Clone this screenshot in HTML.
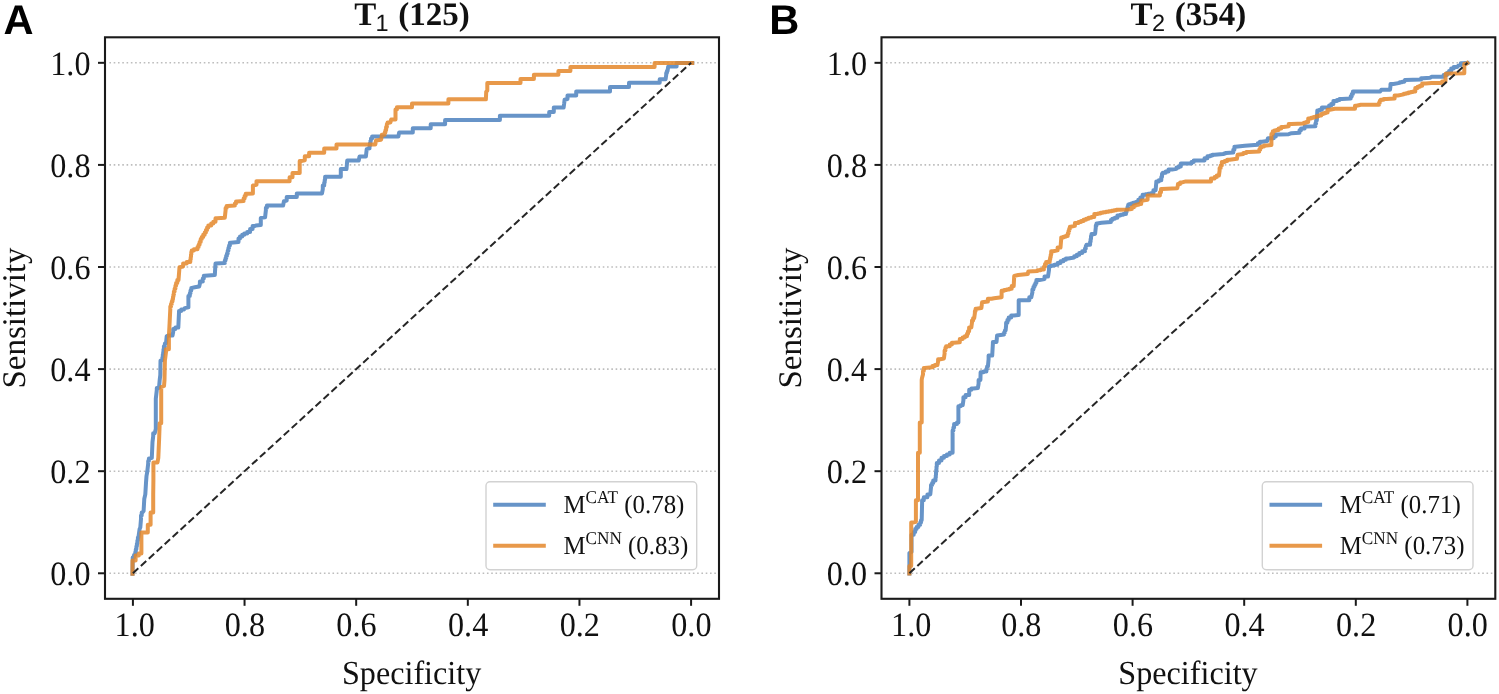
<!DOCTYPE html>
<html><head><meta charset="utf-8"><style>
html,body{margin:0;padding:0;background:#fff;}
body{width:1499px;height:694px;overflow:hidden;}
svg{display:block;will-change:transform;}
text{font-family:"Liberation Serif",serif;fill:#111;text-rendering:geometricPrecision;}
.tk{font-size:32.2px;}
.lab{font-size:33px;}
.ttl{font-size:33px;font-weight:bold;}
.sub{font-family:"Liberation Sans",sans-serif;font-weight:normal;font-size:23.5px;}
.leg{font-size:24.9px;}
.sup{font-size:17.2px;}
.pl{font-family:"Liberation Sans",sans-serif;font-weight:bold;font-size:41.6px;fill:#000;}
</style></head><body>
<svg width="1499" height="694" viewBox="0 0 1499 694">
<rect width="1499" height="694" fill="#fff"/>
<text x="3.4" y="33.7" class="pl">A</text>
<text x="769.2" y="33.7" class="pl">B</text>
<line x1="109.4" y1="573.28" x2="718.0" y2="573.28" stroke="#bdbdbd" stroke-width="1.6" stroke-dasharray="1.6 2.69"/>
<line x1="109.4" y1="471.19" x2="718.0" y2="471.19" stroke="#bdbdbd" stroke-width="1.6" stroke-dasharray="1.6 2.69"/>
<line x1="109.4" y1="369.10" x2="718.0" y2="369.10" stroke="#bdbdbd" stroke-width="1.6" stroke-dasharray="1.6 2.69"/>
<line x1="109.4" y1="267.00" x2="718.0" y2="267.00" stroke="#bdbdbd" stroke-width="1.6" stroke-dasharray="1.6 2.69"/>
<line x1="109.4" y1="164.91" x2="718.0" y2="164.91" stroke="#bdbdbd" stroke-width="1.6" stroke-dasharray="1.6 2.69"/>
<line x1="109.4" y1="62.82" x2="718.0" y2="62.82" stroke="#bdbdbd" stroke-width="1.6" stroke-dasharray="1.6 2.69"/>
<path d="M132.5 573.7 L132.7 560.0 L132.7 557.5 L134.0 557.5 L134.0 554.9 L135.3 554.9 L135.3 552.0 L135.8 552.0 L135.8 549.2 L136.4 549.2 L136.4 546.3 L136.9 546.3 L136.9 543.4 L137.4 543.4 L137.4 540.5 L137.9 540.5 L137.9 537.6 L138.4 537.6 L139.6 529.0 L140.3 527.5 L141.0 518.9 L141.0 515.6 L141.7 515.6 L141.7 512.4 L142.4 512.4 L143.6 511.0 L144.3 498.7 L145.3 494.4 L146.0 482.9 L146.5 476.0 L147.2 472.2 L148.2 463.6 L148.2 461.1 L148.9 461.1 L148.9 458.5 L149.6 458.5 L151.8 457.8 L152.5 442.0 L153.2 436.2 L153.2 433.3 L154.7 433.3 L155.8 429.0 L155.8 398.7 L156.8 390.1 L156.8 387.9 L159.0 387.9 L159.7 380.0 L160.3 375.0 L160.5 360.7 L162.4 360.0 L162.4 357.3 L162.8 357.3 L162.8 354.6 L163.2 354.6 L163.2 351.9 L163.5 351.9 L163.5 349.2 L163.9 349.2 L163.9 346.3 L164.9 346.3 L164.9 343.4 L166.0 343.4 L166.7 336.2 L168.9 335.5 L172.5 335.5 L173.2 331.9 L173.2 329.0 L175.4 329.0 L175.4 327.6 L178.3 327.6 L179.0 312.4 L179.0 311.0 L181.2 311.0 L181.2 309.5 L184.0 309.5 L184.8 308.1 L188.4 307.4 L188.4 298.7 L188.4 295.9 L189.8 295.9 L189.8 293.2 L190.5 293.2 L190.5 290.6 L191.3 290.6 L191.3 287.9 L192.0 287.9 L194.8 287.2 L199.2 286.5 L199.9 283.6 L199.9 281.4 L202.8 281.4 L202.8 278.6 L203.8 278.6 L203.8 275.8 L204.7 275.8 L214.8 275.1 L215.5 263.6 L224.8 262.9 L224.8 260.5 L225.5 260.5 L225.5 258.2 L226.2 258.2 L226.2 255.8 L227.0 255.8 L227.0 253.5 L227.7 253.5 L227.7 250.8 L228.4 250.8 L228.4 248.1 L229.1 248.1 L229.1 245.4 L229.9 245.4 L229.9 242.7 L230.6 242.7 L238.5 242.0 L238.5 238.4 L240.0 238.4 L240.0 236.6 L242.2 236.6 L242.2 234.8 L244.3 234.8 L244.3 233.4 L247.2 233.4 L247.2 231.9 L250.1 231.9 L250.1 229.0 L252.6 229.0 L252.6 226.1 L255.1 226.1 L255.8 225.5 L260.8 225.1 L260.8 217.9 L265.1 217.2 L265.9 210.0 L265.9 207.8 L266.9 207.8 L266.9 205.6 L268.0 205.6 L283.1 205.6 L283.9 201.3 L286.7 200.6 L286.7 197.0 L296.8 197.0 L296.8 193.4 L322.0 193.4 L322.8 189.1 L322.8 185.5 L324.2 185.5 L324.2 182.6 L324.7 182.6 L324.7 179.7 L325.1 179.7 L325.1 176.8 L325.6 176.8 L340.8 176.8 L340.8 169.1 L346.5 169.1 L347.2 160.6 L358.7 160.6 L359.5 156.6 L365.9 156.6 L366.7 149.1 L369.5 148.4 L369.5 145.7 L370.0 145.7 L370.0 143.1 L370.5 143.1 L370.5 140.4 L371.0 140.4 L371.0 138.4 L372.1 138.4 L372.1 136.4 L373.1 136.4 L398.4 136.4 L399.1 132.5 L412.8 132.5 L412.8 128.3 L430.7 128.3 L430.7 124.2 L445.1 124.2 L445.1 119.9 L499.9 119.9 L499.9 115.8 L549.2 115.8 L549.2 112.0 L553.8 112.0 L553.8 107.6 L563.6 107.6 L564.2 103.3 L564.6 99.7 L567.5 99.0 L567.5 95.4 L576.2 95.4 L576.2 91.5 L610.0 91.5 L610.0 87.1 L629.0 87.1 L629.0 82.8 L659.7 82.8 L659.7 79.2 L665.6 79.2 L666.2 75.0 L666.2 73.0 L666.9 73.0 L666.9 71.1 L667.5 71.1 L668.2 66.6 L676.6 66.6 L676.6 63.0 L692.2 63.0" fill="none" stroke="#6794c8" stroke-opacity="1" stroke-width="4" stroke-linejoin="round" stroke-linecap="square"/>
<path d="M132.5 573.7 L132.5 560.5 L135.6 560.5 L135.6 555.6 L138.8 555.6 L138.8 553.5 L141.4 553.5 L141.4 532.6 L147.8 532.6 L147.8 524.7 L150.6 524.7 L150.6 512.5 L153.2 512.5 L153.2 494.4 L153.4 480.0 L153.4 462.5 L157.5 462.5 L158.3 457.8 L159.0 442.0 L159.7 423.2 L161.2 423.2 L161.2 387.2 L164.0 386.0 L164.5 380.0 L164.9 360.7 L166.0 352.0 L166.0 349.2 L168.9 349.2 L168.9 336.2 L169.6 323.2 L170.3 308.8 L170.3 306.4 L171.0 306.4 L171.0 304.0 L171.8 304.0 L171.8 301.6 L172.5 301.6 L172.5 299.2 L173.0 299.2 L173.0 296.8 L173.4 296.8 L173.4 294.4 L173.9 294.4 L173.9 291.5 L174.6 291.5 L174.6 288.7 L175.4 288.7 L175.4 285.8 L176.1 285.8 L176.1 282.9 L177.3 282.9 L177.3 280.0 L178.5 280.0 L179.5 267.2 L183.1 266.5 L183.1 263.6 L186.7 263.6 L186.7 262.1 L190.3 262.1 L190.3 259.6 L190.7 259.6 L190.7 257.1 L191.0 257.1 L191.0 254.5 L191.3 254.5 L191.3 252.0 L191.7 252.0 L191.7 250.6 L193.9 250.6 L193.9 249.2 L197.5 249.2 L197.5 247.0 L198.6 247.0 L198.6 244.8 L199.6 244.8 L199.6 241.9 L200.7 241.9 L200.7 239.1 L201.8 239.1 L201.8 236.9 L203.2 236.9 L203.2 234.8 L204.7 234.8 L204.7 232.4 L205.9 232.4 L205.9 230.0 L207.1 230.0 L207.1 227.6 L208.3 227.6 L208.3 225.4 L211.2 225.4 L211.2 223.6 L213.3 223.6 L213.3 221.8 L215.5 221.8 L215.5 218.2 L216.9 218.2 L224.8 217.8 L225.6 210.3 L225.6 208.1 L226.6 208.1 L226.6 205.9 L227.7 205.9 L234.9 205.6 L234.9 203.6 L236.0 203.6 L236.0 201.6 L237.1 201.6 L243.6 200.9 L243.6 198.4 L244.6 198.4 L244.6 195.9 L245.7 195.9 L245.7 193.7 L247.9 193.7 L252.9 193.4 L252.9 185.5 L256.5 184.8 L256.5 181.2 L289.6 181.2 L289.6 177.2 L292.5 177.2 L292.5 172.9 L299.7 172.9 L299.7 164.6 L299.7 161.0 L301.2 161.0 L304.8 160.3 L304.8 156.3 L309.1 156.3 L309.1 152.8 L324.2 152.8 L324.2 148.4 L336.5 148.4 L336.5 144.4 L375.3 144.5 L376.0 140.4 L381.1 139.7 L381.8 136.1 L381.8 134.7 L384.7 134.7 L384.7 132.5 L385.4 132.5 L385.4 130.3 L386.1 130.3 L386.1 127.1 L386.9 127.1 L386.9 123.9 L387.6 123.9 L387.6 122.4 L390.4 122.4 L391.2 119.5 L395.5 119.5 L395.5 111.6 L395.5 109.4 L396.9 109.4 L396.9 107.3 L398.4 107.3 L412.0 107.3 L412.0 103.6 L448.4 103.6 L448.4 99.3 L485.9 99.3 L486.2 91.8 L487.3 90.6 L487.3 82.9 L520.5 82.9 L520.5 78.9 L533.9 78.9 L533.9 74.8 L558.4 74.8 L558.4 70.9 L570.4 70.9 L570.4 66.9 L654.6 66.9 L654.6 63.0 L692.2 63.0" fill="none" stroke="#e4872a" stroke-opacity="0.85" stroke-width="4" stroke-linejoin="round" stroke-linecap="square"/>
<line x1="132.91" y1="573.28" x2="691.09" y2="62.82" stroke="#262626" stroke-width="2.0" stroke-dasharray="7.3 3.46"/>
<rect x="105.0" y="37.3" width="614.0" height="561.5" fill="none" stroke="#1a1a1a" stroke-width="2.1"/>
<line x1="98.0" y1="573.28" x2="105.0" y2="573.28" stroke="#1a1a1a" stroke-width="2"/>
<text transform="translate(90.5 585.28) scale(1 1.06)" text-anchor="end" class="tk">0.0</text>
<line x1="691.09" y1="598.8" x2="691.09" y2="605.8" stroke="#1a1a1a" stroke-width="2"/>
<text transform="translate(691.39 636.2) scale(1 1.06)" text-anchor="middle" class="tk">0.0</text>
<line x1="98.0" y1="471.19" x2="105.0" y2="471.19" stroke="#1a1a1a" stroke-width="2"/>
<text transform="translate(90.5 483.19) scale(1 1.06)" text-anchor="end" class="tk">0.2</text>
<line x1="579.45" y1="598.8" x2="579.45" y2="605.8" stroke="#1a1a1a" stroke-width="2"/>
<text transform="translate(579.75 636.2) scale(1 1.06)" text-anchor="middle" class="tk">0.2</text>
<line x1="98.0" y1="369.10" x2="105.0" y2="369.10" stroke="#1a1a1a" stroke-width="2"/>
<text transform="translate(90.5 381.10) scale(1 1.06)" text-anchor="end" class="tk">0.4</text>
<line x1="467.82" y1="598.8" x2="467.82" y2="605.8" stroke="#1a1a1a" stroke-width="2"/>
<text transform="translate(468.12 636.2) scale(1 1.06)" text-anchor="middle" class="tk">0.4</text>
<line x1="98.0" y1="267.00" x2="105.0" y2="267.00" stroke="#1a1a1a" stroke-width="2"/>
<text transform="translate(90.5 279.00) scale(1 1.06)" text-anchor="end" class="tk">0.6</text>
<line x1="356.18" y1="598.8" x2="356.18" y2="605.8" stroke="#1a1a1a" stroke-width="2"/>
<text transform="translate(356.48 636.2) scale(1 1.06)" text-anchor="middle" class="tk">0.6</text>
<line x1="98.0" y1="164.91" x2="105.0" y2="164.91" stroke="#1a1a1a" stroke-width="2"/>
<text transform="translate(90.5 176.91) scale(1 1.06)" text-anchor="end" class="tk">0.8</text>
<line x1="244.55" y1="598.8" x2="244.55" y2="605.8" stroke="#1a1a1a" stroke-width="2"/>
<text transform="translate(244.85 636.2) scale(1 1.06)" text-anchor="middle" class="tk">0.8</text>
<line x1="98.0" y1="62.82" x2="105.0" y2="62.82" stroke="#1a1a1a" stroke-width="2"/>
<text transform="translate(90.5 74.82) scale(1 1.06)" text-anchor="end" class="tk">1.0</text>
<line x1="132.91" y1="598.8" x2="132.91" y2="605.8" stroke="#1a1a1a" stroke-width="2"/>
<text transform="translate(134.71 636.2) scale(1 1.06)" text-anchor="middle" class="tk">1.0</text>
<text transform="translate(411.6 683.6) scale(0.975 1.02)" text-anchor="middle" class="lab">Specificity</text>
<text transform="translate(24.8 318.0) rotate(-90)" text-anchor="middle" class="lab">Sensitivity</text>
<text x="412.0" y="25.4" text-anchor="middle" class="ttl">T<tspan class="sub" dx="-0.6" dy="5.8">1</tspan><tspan dy="-5.8" dx="1.4"> (125)</tspan></text>
<rect x="486.0" y="481.8" width="210.7" height="88" rx="4" fill="#fff" fill-opacity="0.8" stroke="#d2d2d2" stroke-width="1.4"/>
<line x1="493.2" y1="504.8" x2="545.8" y2="504.8" stroke="#6794c8" stroke-width="4"/>
<text transform="translate(563.4 512.8) scale(1 1.05)" class="leg">M<tspan class="sup" dy="-9.6">CAT</tspan><tspan dy="9.6"> (0.78)</tspan></text>
<line x1="493.2" y1="545.7" x2="545.8" y2="545.7" stroke="#e8994a" stroke-width="4"/>
<text transform="translate(563.4 553.7) scale(1 1.05)" class="leg">M<tspan class="sup" dy="-9.6">CNN</tspan><tspan dy="9.6"> (0.83)</tspan></text>
<line x1="885.9" y1="573.28" x2="1494.3" y2="573.28" stroke="#bdbdbd" stroke-width="1.6" stroke-dasharray="1.6 2.69"/>
<line x1="885.9" y1="471.19" x2="1494.3" y2="471.19" stroke="#bdbdbd" stroke-width="1.6" stroke-dasharray="1.6 2.69"/>
<line x1="885.9" y1="369.10" x2="1494.3" y2="369.10" stroke="#bdbdbd" stroke-width="1.6" stroke-dasharray="1.6 2.69"/>
<line x1="885.9" y1="267.00" x2="1494.3" y2="267.00" stroke="#bdbdbd" stroke-width="1.6" stroke-dasharray="1.6 2.69"/>
<line x1="885.9" y1="164.91" x2="1494.3" y2="164.91" stroke="#bdbdbd" stroke-width="1.6" stroke-dasharray="1.6 2.69"/>
<line x1="885.9" y1="62.82" x2="1494.3" y2="62.82" stroke="#bdbdbd" stroke-width="1.6" stroke-dasharray="1.6 2.69"/>
<path d="M909.4 573.6 L909.4 553.0 L911.5 552.0 L911.5 537.0 L911.5 534.8 L913.7 534.8 L913.7 531.9 L915.2 531.9 L915.2 529.0 L916.6 529.0 L916.6 526.9 L918.4 526.9 L918.4 524.7 L920.2 524.7 L920.2 522.5 L921.0 522.5 L921.0 520.3 L921.7 520.3 L922.1 503.1 L922.1 500.2 L923.8 500.2 L923.8 497.3 L927.4 497.3 L927.4 494.4 L930.3 494.4 L931.0 487.2 L931.0 485.0 L932.1 485.0 L932.1 482.9 L933.2 482.9 L933.2 480.5 L935.5 480.5 L935.5 477.7 L935.8 477.7 L935.8 474.9 L936.0 474.9 L936.0 472.1 L936.3 472.1 L936.3 469.3 L936.5 469.3 L936.5 466.5 L936.8 466.5 L936.8 462.9 L939.0 462.9 L939.0 460.4 L941.5 460.4 L941.5 457.8 L944.0 457.8 L944.0 456.1 L946.9 456.1 L946.9 454.5 L949.7 454.5 L949.7 452.8 L952.6 452.8 L952.6 433.3 L952.6 430.5 L953.4 430.5 L953.4 427.6 L954.1 427.6 L954.1 423.9 L957.0 423.9 L957.0 422.5 L958.4 422.5 L958.4 407.4 L958.4 406.3 L960.5 406.3 L960.5 405.2 L962.7 405.2 L963.4 400.2 L963.4 397.3 L965.6 397.3 L965.6 395.1 L969.2 395.1 L969.2 390.8 L969.2 389.7 L971.4 389.7 L971.4 388.6 L973.5 388.6 L977.9 387.9 L978.6 383.6 L978.6 380.0 L980.4 380.0 L980.6 372.9 L980.6 372.2 L983.5 372.2 L983.5 371.5 L986.4 371.5 L986.4 369.0 L987.1 369.0 L987.1 366.5 L987.9 366.5 L988.6 359.3 L988.6 355.6 L992.2 355.6 L992.9 343.4 L992.9 342.0 L996.5 342.0 L997.1 335.5 L1004.1 334.5 L1004.1 332.5 L1004.9 332.5 L1004.9 330.5 L1005.6 330.5 L1006.1 325.5 L1006.1 322.7 L1007.4 322.7 L1007.4 319.9 L1008.7 319.9 L1008.7 317.4 L1011.2 317.4 L1011.2 315.4 L1014.2 315.4 L1018.7 314.9 L1018.7 300.3 L1029.3 300.3 L1029.3 297.2 L1031.3 297.2 L1032.4 292.2 L1032.4 289.6 L1033.4 289.6 L1033.4 287.1 L1034.4 287.1 L1034.4 285.1 L1035.4 285.1 L1035.4 283.1 L1036.4 283.1 L1036.4 280.1 L1039.4 280.1 L1044.5 279.1 L1044.5 276.6 L1048.0 276.6 L1049.0 270.0 L1049.0 267.7 L1049.0 266.3 L1051.2 266.3 L1051.2 265.6 L1054.4 265.6 L1054.4 264.8 L1057.6 264.8 L1057.6 263.0 L1060.5 263.0 L1060.5 261.2 L1063.4 261.2 L1063.4 259.8 L1065.9 259.8 L1065.9 258.4 L1068.4 258.4 L1074.2 257.6 L1074.2 256.2 L1076.8 256.2 L1076.8 254.8 L1079.3 254.8 L1079.3 253.0 L1082.2 253.0 L1082.2 251.2 L1085.0 251.2 L1085.0 248.6 L1085.8 248.6 L1085.8 246.1 L1086.5 246.1 L1086.5 244.7 L1090.1 244.7 L1090.1 241.8 L1090.6 241.8 L1090.6 238.9 L1091.0 238.9 L1091.0 236.0 L1091.5 236.0 L1091.5 233.9 L1095.1 233.9 L1095.8 227.4 L1095.8 225.4 L1096.5 225.4 L1096.5 223.5 L1097.2 223.5 L1101.5 222.8 L1110.9 222.0 L1110.9 219.9 L1112.3 219.9 L1112.3 218.8 L1114.8 218.8 L1114.8 217.7 L1117.4 217.7 L1117.4 215.6 L1120.3 215.6 L1120.3 214.8 L1123.2 214.8 L1123.2 214.1 L1126.0 214.1 L1126.0 211.8 L1126.7 211.8 L1126.7 209.4 L1127.5 209.4 L1127.5 207.1 L1128.2 207.1 L1128.2 204.8 L1128.9 204.8 L1128.9 204.2 L1131.1 204.2 L1131.1 203.6 L1133.2 203.6 L1133.2 202.8 L1135.8 202.8 L1135.8 201.9 L1138.3 201.9 L1138.3 199.8 L1140.4 199.8 L1140.4 197.6 L1142.6 197.6 L1142.6 194.7 L1145.5 194.7 L1145.5 194.2 L1148.1 194.2 L1148.1 193.7 L1150.8 193.7 L1150.8 193.2 L1153.4 193.2 L1153.4 190.3 L1155.6 190.3 L1156.3 182.4 L1156.3 181.4 L1158.8 181.4 L1158.8 180.3 L1161.3 180.3 L1161.3 177.1 L1162.0 177.1 L1162.0 173.8 L1162.8 173.8 L1162.8 172.7 L1165.7 172.7 L1165.7 171.6 L1168.5 171.6 L1168.5 169.5 L1172.1 169.5 L1176.5 168.7 L1176.5 167.6 L1178.7 167.6 L1178.7 166.6 L1180.8 166.6 L1180.8 163.4 L1184.3 163.4 L1191.5 163.4 L1191.5 161.9 L1193.7 161.9 L1193.7 160.5 L1195.9 160.5 L1204.5 160.5 L1204.5 158.3 L1207.4 158.3 L1207.4 156.2 L1210.3 156.2 L1210.3 155.5 L1212.4 155.5 L1212.4 154.8 L1214.6 154.8 L1223.2 154.0 L1226.1 153.0 L1233.3 152.6 L1233.3 149.7 L1234.4 149.7 L1234.4 146.8 L1235.5 146.8 L1244.8 145.8 L1257.8 144.7 L1257.8 143.2 L1259.9 143.2 L1259.9 141.8 L1262.1 141.8 L1267.2 141.1 L1267.9 138.2 L1273.7 138.2 L1273.7 136.4 L1275.8 136.4 L1275.8 134.6 L1279.4 134.6 L1288.7 134.2 L1291.6 133.2 L1299.5 132.8 L1299.5 130.3 L1301.0 130.3 L1301.0 128.4 L1304.6 128.4 L1304.6 126.6 L1306.7 126.6 L1315.4 126.3 L1315.4 123.4 L1316.1 123.4 L1316.1 120.5 L1316.8 120.5 L1317.3 111.2 L1317.3 110.5 L1319.6 110.5 L1319.6 109.7 L1321.9 109.7 L1321.9 107.6 L1325.5 107.6 L1329.1 106.8 L1329.1 105.4 L1331.2 105.4 L1331.2 104.0 L1333.4 104.0 L1333.4 101.1 L1337.0 101.1 L1337.0 100.0 L1339.5 100.0 L1339.5 98.9 L1342.0 98.9 L1350.7 98.6 L1350.7 96.2 L1351.8 96.2 L1351.8 93.9 L1352.9 93.9 L1352.9 91.5 L1356.5 91.5 L1380.2 91.5 L1381.3 89.8 L1390.0 89.8 L1390.5 85.7 L1390.5 84.0 L1393.4 84.0 L1399.8 82.9 L1399.8 82.3 L1402.1 82.3 L1402.1 81.7 L1404.4 81.7 L1405.0 80.0 L1421.1 79.4 L1421.1 78.2 L1422.8 78.2 L1430.3 77.7 L1431.5 76.8 L1443.6 76.8 L1443.6 75.0 L1447.0 75.0 L1447.0 73.0 L1449.1 73.0 L1449.1 71.1 L1451.2 71.1 L1451.2 68.6 L1453.7 68.6 L1453.7 67.1 L1457.2 67.1 L1458.3 65.6 L1460.8 65.1 L1460.8 63.3 L1462.8 63.3 L1467.4 63.0" fill="none" stroke="#6794c8" stroke-opacity="1" stroke-width="4" stroke-linejoin="round" stroke-linecap="square"/>
<path d="M909.4 573.6 L909.4 566.0 L911.2 566.0 L911.2 526.0 L911.2 522.5 L913.0 522.5 L915.9 521.8 L915.9 501.6 L915.9 500.2 L918.0 500.2 L918.0 454.2 L918.0 452.8 L919.8 452.8 L919.8 424.0 L919.8 422.5 L921.7 422.5 L921.7 380.0 L922.0 378.0 L923.0 374.4 L923.0 371.1 L923.8 371.1 L923.8 367.9 L924.5 367.9 L932.4 367.2 L932.4 366.1 L934.9 366.1 L934.9 365.0 L937.4 365.0 L938.1 361.4 L938.1 359.3 L940.3 359.3 L943.9 358.5 L944.6 353.5 L944.6 350.6 L945.4 350.6 L945.4 347.7 L946.1 347.7 L946.1 346.3 L949.7 346.3 L949.7 344.5 L951.9 344.5 L951.9 342.7 L954.0 342.7 L959.8 342.2 L959.8 339.1 L962.6 339.1 L962.6 337.6 L964.8 337.6 L964.8 336.2 L967.0 336.2 L967.0 333.7 L968.0 333.7 L968.0 331.2 L969.1 331.2 L969.1 327.6 L971.3 327.6 L972.0 322.5 L972.0 320.4 L973.1 320.4 L973.1 318.2 L974.2 318.2 L974.9 313.1 L974.9 311.0 L975.6 311.0 L975.6 308.8 L976.3 308.8 L981.4 308.1 L982.1 302.3 L987.9 301.6 L987.9 298.7 L991.5 298.7 L994.0 298.2 L1001.6 297.2 L1001.6 292.2 L1001.6 290.7 L1004.1 290.7 L1004.1 290.0 L1006.6 290.0 L1006.6 289.4 L1009.2 289.4 L1009.2 288.7 L1011.7 288.7 L1011.7 286.1 L1013.7 286.1 L1014.2 276.0 L1018.2 275.0 L1027.8 274.0 L1028.3 271.5 L1037.4 271.0 L1037.4 270.2 L1040.7 270.2 L1040.7 269.5 L1043.9 269.5 L1043.9 266.8 L1045.0 266.8 L1045.0 264.1 L1046.1 264.1 L1046.1 262.0 L1049.7 262.0 L1049.7 259.6 L1050.2 259.6 L1050.2 257.2 L1050.7 257.2 L1050.7 254.8 L1051.2 254.8 L1051.2 251.2 L1053.3 251.2 L1057.6 250.4 L1057.6 247.6 L1060.5 247.6 L1061.2 238.9 L1061.2 237.5 L1063.4 237.5 L1063.4 236.8 L1065.6 236.8 L1065.6 236.0 L1067.7 236.0 L1067.7 233.5 L1068.5 233.5 L1068.5 231.0 L1069.2 231.0 L1069.2 228.8 L1069.9 228.8 L1069.9 226.7 L1070.6 226.7 L1074.9 225.9 L1074.9 223.1 L1078.5 223.1 L1078.5 222.0 L1081.0 222.0 L1081.0 220.9 L1083.6 220.9 L1083.6 219.8 L1086.1 219.8 L1086.1 218.7 L1088.6 218.7 L1088.6 217.8 L1091.4 217.8 L1091.4 217.0 L1094.3 217.0 L1094.3 214.1 L1097.9 214.1 L1097.9 213.4 L1100.5 213.4 L1100.5 212.7 L1103.0 212.7 L1103.0 212.2 L1105.9 212.2 L1105.9 211.7 L1108.7 211.7 L1108.7 211.2 L1111.6 211.2 L1111.6 210.7 L1114.0 210.7 L1114.0 210.3 L1116.4 210.3 L1116.4 209.8 L1118.8 209.8 L1128.2 209.4 L1131.8 209.1 L1131.8 207.3 L1133.9 207.3 L1133.9 205.5 L1136.1 205.5 L1136.1 204.8 L1138.7 204.8 L1138.7 204.0 L1141.2 204.0 L1141.2 200.4 L1144.0 200.4 L1147.6 199.7 L1147.6 195.4 L1159.9 195.4 L1159.9 192.2 L1161.0 192.2 L1161.0 188.9 L1162.0 188.9 L1177.2 188.2 L1177.9 185.3 L1177.9 183.9 L1180.1 183.9 L1180.1 182.4 L1182.2 182.4 L1185.8 181.4 L1211.0 181.4 L1211.0 178.5 L1214.6 178.5 L1214.6 177.1 L1216.8 177.1 L1216.8 175.6 L1218.9 175.6 L1219.6 170.6 L1219.6 168.1 L1220.7 168.1 L1220.7 165.6 L1221.8 165.6 L1221.8 162.0 L1224.7 162.0 L1224.7 160.9 L1227.2 160.9 L1227.2 159.8 L1229.7 159.8 L1236.9 158.8 L1237.6 154.8 L1243.4 154.0 L1243.4 152.9 L1246.3 152.9 L1246.3 151.9 L1249.2 151.9 L1259.3 151.6 L1259.3 149.6 L1260.3 149.6 L1260.3 147.6 L1261.4 147.6 L1261.4 146.5 L1264.0 146.5 L1264.0 145.4 L1266.5 145.4 L1271.4 145.0 L1271.4 136.4 L1271.4 133.9 L1272.8 133.9 L1272.8 131.3 L1274.3 131.3 L1274.3 130.6 L1276.4 130.6 L1276.4 129.9 L1278.6 129.9 L1278.6 128.4 L1281.2 128.4 L1281.2 127.0 L1283.7 127.0 L1288.7 126.3 L1288.7 124.1 L1291.6 124.1 L1303.9 123.4 L1303.9 122.7 L1306.1 122.7 L1306.1 122.0 L1308.2 122.0 L1308.2 118.4 L1311.1 118.4 L1311.1 117.7 L1313.6 117.7 L1313.6 116.9 L1316.1 116.9 L1316.1 116.2 L1318.7 116.2 L1318.7 115.5 L1321.2 115.5 L1321.2 114.0 L1323.3 114.0 L1323.3 113.3 L1325.4 113.3 L1325.4 112.6 L1327.6 112.6 L1327.6 109.7 L1329.8 109.7 L1334.8 108.7 L1355.0 108.7 L1355.0 105.8 L1356.5 105.8 L1360.8 104.8 L1379.0 104.8 L1379.0 102.8 L1379.8 102.8 L1379.8 100.7 L1380.7 100.7 L1380.7 99.8 L1383.6 99.8 L1383.6 99.0 L1386.5 99.0 L1394.6 98.4 L1394.6 95.5 L1398.0 95.5 L1403.8 94.4 L1403.8 93.8 L1406.1 93.8 L1406.1 93.2 L1408.4 93.2 L1408.4 92.6 L1410.7 92.6 L1410.7 92.1 L1413.0 92.1 L1413.0 91.5 L1415.3 91.5 L1415.3 88.0 L1417.6 88.0 L1417.6 86.8 L1419.9 86.8 L1419.9 85.7 L1422.2 85.7 L1422.2 83.4 L1425.7 83.4 L1431.5 82.9 L1442.1 83.0 L1442.1 81.5 L1445.5 81.5 L1445.6 73.7 L1452.0 73.4 L1464.3 73.2 L1464.3 65.5 L1464.3 63.8 L1466.5 63.8 L1467.4 63.0" fill="none" stroke="#e4872a" stroke-opacity="0.85" stroke-width="4" stroke-linejoin="round" stroke-linecap="square"/>
<line x1="909.40" y1="573.28" x2="1467.40" y2="62.82" stroke="#262626" stroke-width="2.0" stroke-dasharray="7.3 3.46"/>
<rect x="881.5" y="37.3" width="613.8" height="561.5" fill="none" stroke="#1a1a1a" stroke-width="2.1"/>
<line x1="874.5" y1="573.28" x2="881.5" y2="573.28" stroke="#1a1a1a" stroke-width="2"/>
<text transform="translate(867.0 585.28) scale(1 1.06)" text-anchor="end" class="tk">0.0</text>
<line x1="1467.40" y1="598.8" x2="1467.40" y2="605.8" stroke="#1a1a1a" stroke-width="2"/>
<text transform="translate(1467.70 636.2) scale(1 1.06)" text-anchor="middle" class="tk">0.0</text>
<line x1="874.5" y1="471.19" x2="881.5" y2="471.19" stroke="#1a1a1a" stroke-width="2"/>
<text transform="translate(867.0 483.19) scale(1 1.06)" text-anchor="end" class="tk">0.2</text>
<line x1="1355.80" y1="598.8" x2="1355.80" y2="605.8" stroke="#1a1a1a" stroke-width="2"/>
<text transform="translate(1356.10 636.2) scale(1 1.06)" text-anchor="middle" class="tk">0.2</text>
<line x1="874.5" y1="369.10" x2="881.5" y2="369.10" stroke="#1a1a1a" stroke-width="2"/>
<text transform="translate(867.0 381.10) scale(1 1.06)" text-anchor="end" class="tk">0.4</text>
<line x1="1244.20" y1="598.8" x2="1244.20" y2="605.8" stroke="#1a1a1a" stroke-width="2"/>
<text transform="translate(1244.50 636.2) scale(1 1.06)" text-anchor="middle" class="tk">0.4</text>
<line x1="874.5" y1="267.00" x2="881.5" y2="267.00" stroke="#1a1a1a" stroke-width="2"/>
<text transform="translate(867.0 279.00) scale(1 1.06)" text-anchor="end" class="tk">0.6</text>
<line x1="1132.60" y1="598.8" x2="1132.60" y2="605.8" stroke="#1a1a1a" stroke-width="2"/>
<text transform="translate(1132.90 636.2) scale(1 1.06)" text-anchor="middle" class="tk">0.6</text>
<line x1="874.5" y1="164.91" x2="881.5" y2="164.91" stroke="#1a1a1a" stroke-width="2"/>
<text transform="translate(867.0 176.91) scale(1 1.06)" text-anchor="end" class="tk">0.8</text>
<line x1="1021.00" y1="598.8" x2="1021.00" y2="605.8" stroke="#1a1a1a" stroke-width="2"/>
<text transform="translate(1021.30 636.2) scale(1 1.06)" text-anchor="middle" class="tk">0.8</text>
<line x1="874.5" y1="62.82" x2="881.5" y2="62.82" stroke="#1a1a1a" stroke-width="2"/>
<text transform="translate(867.0 74.82) scale(1 1.06)" text-anchor="end" class="tk">1.0</text>
<line x1="909.40" y1="598.8" x2="909.40" y2="605.8" stroke="#1a1a1a" stroke-width="2"/>
<text transform="translate(911.20 636.2) scale(1 1.06)" text-anchor="middle" class="tk">1.0</text>
<text transform="translate(1188.0 683.6) scale(0.975 1.02)" text-anchor="middle" class="lab">Specificity</text>
<text transform="translate(801.3 318.0) rotate(-90)" text-anchor="middle" class="lab">Sensitivity</text>
<text x="1188.4" y="25.4" text-anchor="middle" class="ttl">T<tspan class="sub" dx="-0.6" dy="5.8">2</tspan><tspan dy="-5.8" dx="1.4"> (354)</tspan></text>
<rect x="1262.3" y="481.8" width="210.7" height="88" rx="4" fill="#fff" fill-opacity="0.8" stroke="#d2d2d2" stroke-width="1.4"/>
<line x1="1269.5" y1="504.8" x2="1322.1" y2="504.8" stroke="#6794c8" stroke-width="4"/>
<text transform="translate(1339.7 512.8) scale(1 1.05)" class="leg">M<tspan class="sup" dy="-9.6">CAT</tspan><tspan dy="9.6"> (0.71)</tspan></text>
<line x1="1269.5" y1="545.7" x2="1322.1" y2="545.7" stroke="#e8994a" stroke-width="4"/>
<text transform="translate(1339.7 553.7) scale(1 1.05)" class="leg">M<tspan class="sup" dy="-9.6">CNN</tspan><tspan dy="9.6"> (0.73)</tspan></text>
</svg>
</body></html>
